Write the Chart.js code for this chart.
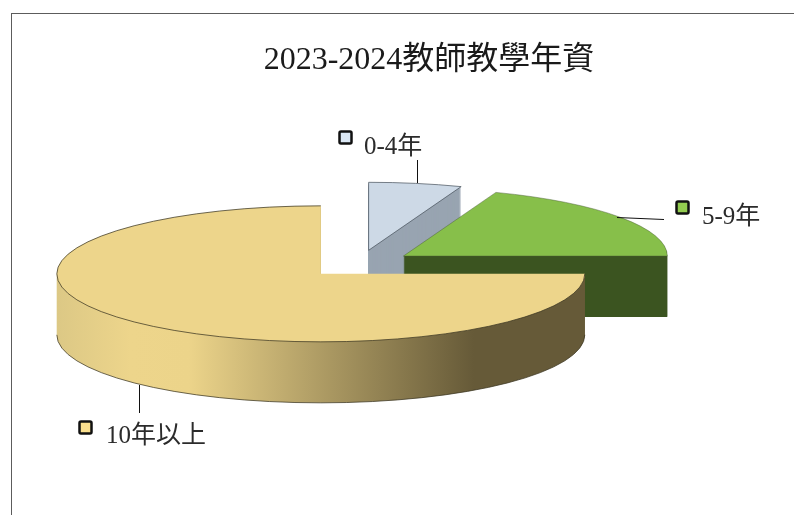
<!DOCTYPE html>
<html>
<head>
<meta charset="utf-8">
<title>2023-2024教師教學年資</title>
<script src="https://cdn.jsdelivr.net/npm/chart.js@4"></script>
<style>
    html, body { margin: 0; padding: 0; width: 794px; height: 515px; overflow: hidden; background: #fff; }
    #frame { position: absolute; left: 11px; top: 13px; width: 834px; height: 520px; border: 1px solid #5c5c5c; }
    canvas { display: block; }
</style>
</head>
<body>
<div id="frame"><canvas id="chart" width="834" height="520"></canvas></div>
<script>
// Chart data
const categories = ['0-4年', '5-9年', '10年以上'];
const shares = [5.7, 19.3, 75];
const chartTitle = '2023-2024教師教學年資';

// Colours per slice
const topColors = ['#cdd9e6', '#87bf4a', '#edd58b'];
const sideColors = ['#98a4b1', '#3b5420', null];
const keyColors = ['#dbe8f5', '#93cc50', '#fbe08e'];
const edgeColors = ['rgba(70,80,90,0.7)', 'rgba(70,90,50,0.45)', 'rgba(60,55,35,0.75)'];

// Fake 3D settings, in canvas pixels
const pieCenter = { x: 347, y: 250 };
const squash = 0.2576;
const depth = 61;
const explode = 54;
const serif = '"Liberation Serif", "Noto Sans CJK TC", serif';

// Key square, label and leader line of each slice, in canvas pixels
const labelLayout = [
    { key: [327.5, 117.5], text: [352, 140], line: [405.5, 146, 405.5, 169] },
    { key: [664.5, 187.5], text: [690, 210], line: [605, 203.5, 652, 205.5] },
    { key: [67.5, 407.5], text: [94, 429], line: [127.5, 371, 127.5, 399] }
];

// Squash the pie and move the slice away from the middle
function applySliceTransform(ctx, arc, shiftY) {
    const mid = (arc.startAngle + arc.endAngle) / 2;
    ctx.translate(pieCenter.x, pieCenter.y + shiftY);
    ctx.scale(1, squash);
    ctx.translate(Math.cos(mid) * explode, Math.sin(mid) * explode);
    ctx.translate(-arc.x, -arc.y);
}

function traceSlice(ctx, arc) {
    ctx.beginPath();
    ctx.moveTo(arc.x, arc.y);
    ctx.arc(arc.x, arc.y, arc.outerRadius, arc.startAngle, arc.endAngle);
    ctx.closePath();
}

// Yellow wall gets lighter at the left and goes dark to the right
function wallGradient(ctx, arc) {
    const mid = (arc.startAngle + arc.endAngle) / 2;
    const left = pieCenter.x + Math.cos(mid) * explode - arc.outerRadius;
    const gradient = ctx.createLinearGradient(left, 0, left + arc.outerRadius * 2, 0);
    gradient.addColorStop(0, '#dcc885');
    gradient.addColorStop(0.14, '#edd58b');
    gradient.addColorStop(0.25, '#ecd48a');
    gradient.addColorStop(0.79, '#665a38');
    gradient.addColorStop(1, '#665a38');
    return gradient;
}

function drawWall(ctx, arc, index) {
    const fill = sideColors[index] || wallGradient(ctx, arc);
    for (let t = depth; t > 0; t--) {
        ctx.save();
        applySliceTransform(ctx, arc, t);
        traceSlice(ctx, arc);
        ctx.restore();
        ctx.fillStyle = fill;
        ctx.fill();
    }
}

function strokeEdges(ctx, arc, index) {
    ctx.strokeStyle = edgeColors[index];
    ctx.lineWidth = 1;

    // Top outline, the big slice only has it on the curve
    ctx.save();
    applySliceTransform(ctx, arc, 0);
    if (sideColors[index]) {
        traceSlice(ctx, arc);
    } else {
        ctx.beginPath();
        ctx.arc(arc.x, arc.y, arc.outerRadius, arc.startAngle, arc.endAngle);
    }
    ctx.restore();
    ctx.stroke();

    // Bottom curve on the part that faces us
    const from = Math.max(arc.startAngle, 0);
    const to = Math.min(arc.endAngle, Math.PI);
    if (to > from) {
        ctx.save();
        applySliceTransform(ctx, arc, depth);
        ctx.beginPath();
        ctx.arc(arc.x, arc.y, arc.outerRadius, from, to);
        ctx.restore();
        ctx.stroke();
    }
}

function drawLabel(ctx, index) {
    const layout = labelLayout[index];

    ctx.strokeStyle = '#111';
    ctx.lineWidth = 1;
    ctx.beginPath();
    ctx.moveTo(layout.line[0], layout.line[1]);
    ctx.lineTo(layout.line[2], layout.line[3]);
    ctx.stroke();

    ctx.fillStyle = keyColors[index];
    ctx.strokeStyle = '#111';
    ctx.lineWidth = 2.5;
    ctx.beginPath();
    ctx.roundRect(layout.key[0], layout.key[1], 12, 12, 1.5);
    ctx.fill();
    ctx.stroke();

    ctx.fillStyle = '#2b2b2b';
    ctx.font = '25px ' + serif;
    ctx.textAlign = 'left';
    ctx.textBaseline = 'alphabetic';
    ctx.fillText(categories[index], layout.text[0], layout.text[1]);
}

// Draws the slices back to front, each one with its wall under it
const pie3dPlugin = {
    id: 'pie3d',
    beforeDatasetsDraw(chart) {
        const ctx = chart.ctx;
        chart.getDatasetMeta(0).data.forEach((arc, index) => {
            drawWall(ctx, arc, index);
            ctx.save();
            applySliceTransform(ctx, arc, 0);
            arc.draw(ctx);
            ctx.restore();
            strokeEdges(ctx, arc, index);
        });
        categories.forEach((name, index) => drawLabel(ctx, index));
        return false;
    }
};

new Chart(document.getElementById('chart'), {
    type: 'pie',
    data: {
        labels: categories,
        datasets: [{
            data: shares,
            backgroundColor: topColors,
            borderWidth: 0
        }]
    },
    options: {
        responsive: false,
        animation: false,
        radius: 264,
        plugins: {
            legend: { display: false },
            tooltip: { enabled: false },
            title: {
                display: true,
                text: chartTitle,
                color: '#1a1a1a',
                font: { family: serif, size: 32, weight: 'normal' },
                padding: { top: 27, bottom: 5 }
            }
        }
    },
    plugins: [pie3dPlugin]
});
</script>
</body>
</html>
